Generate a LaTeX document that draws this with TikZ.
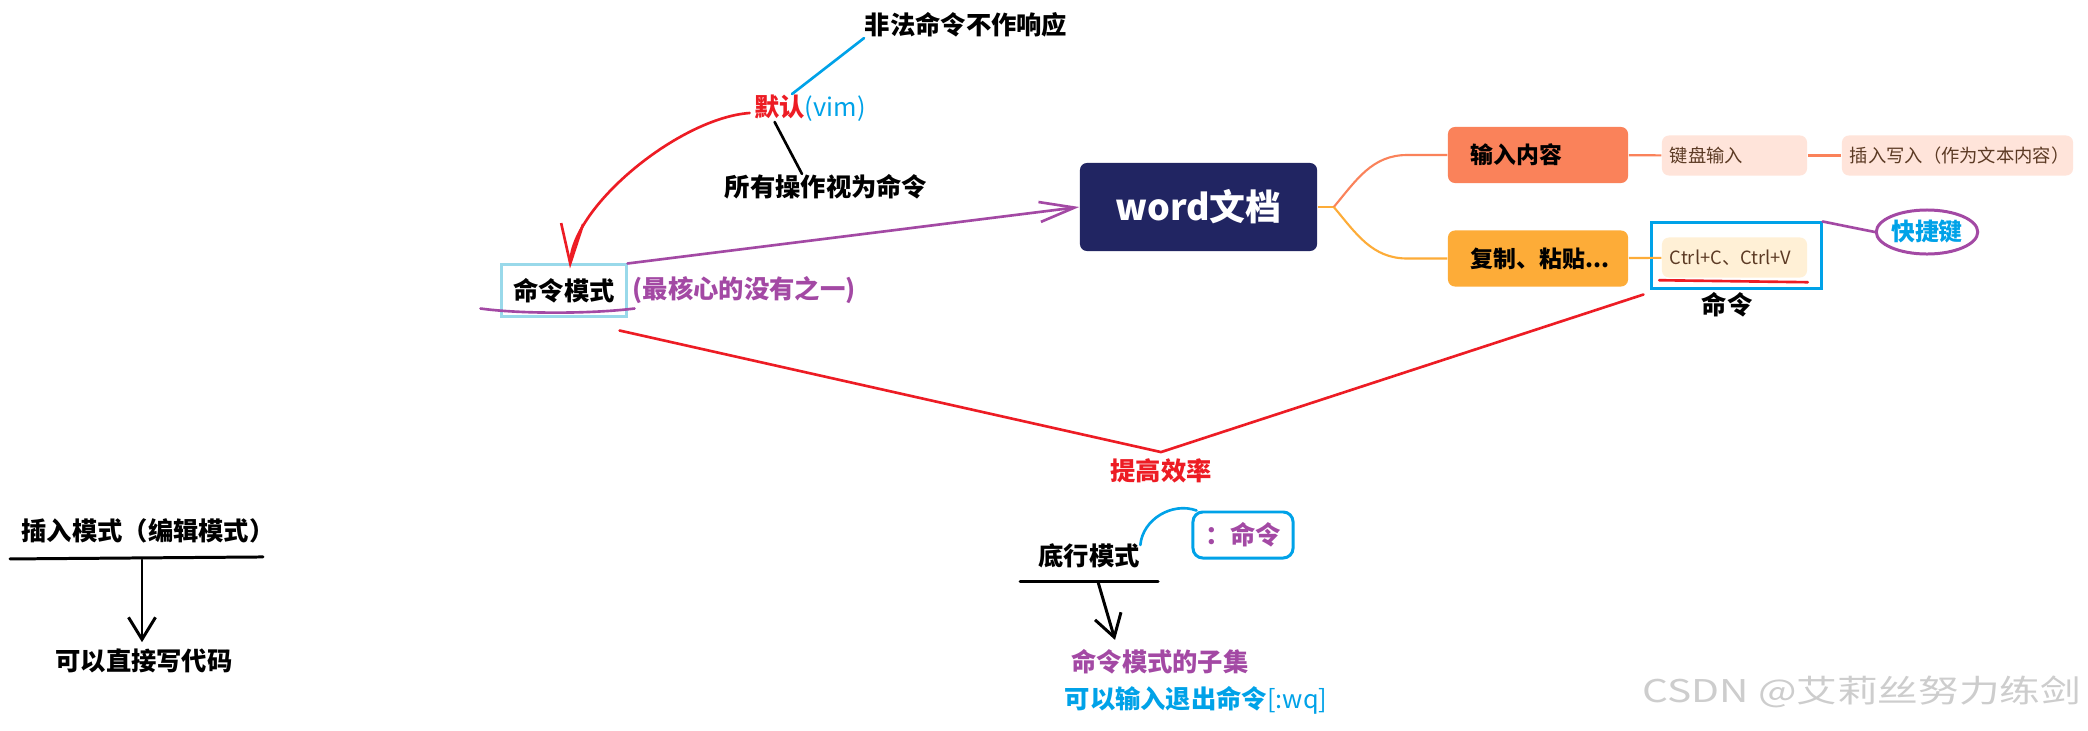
\documentclass[tikz,border=0pt]{standalone}
\usepackage{fontspec}
\setmainfont{Noto Sans CJK SC}
\usepackage{tikz}
\usetikzlibrary{arrows.meta,calc,shapes.geometric}
\definecolor{paintred}{RGB}{237,28,36}
\definecolor{paintblue}{RGB}{0,162,232}
\definecolor{paintpurple}{RGB}{163,73,164}
\definecolor{paintcyan}{RGB}{153,217,234}
\definecolor{navy}{RGB}{33,37,98}
\definecolor{coral}{RGB}{250,130,90}
\definecolor{amber}{RGB}{253,172,56}
\definecolor{blush}{RGB}{255,228,218}
\definecolor{cream}{RGB}{255,240,214}
\definecolor{bark}{RGB}{92,58,36}
\definecolor{wmgray}{RGB}{205,205,205}
\tikzset{
  note/.style={font=\bfseries\fontsize{7.2pt}{8.6pt}\selectfont,inner sep=0pt},
  rootbox/.style={rectangle,rounded corners=2pt,fill=navy,text=white,inner sep=0pt,
    font=\bfseries\fontsize{10.2pt}{12pt}\selectfont,minimum width=2.37cm,minimum height=0.88cm},
  topicbox/.style={rectangle,rounded corners=2pt,fill=#1,inner xsep=0.23cm,inner ysep=0pt,
    text width=1.34cm,align=left,minimum height=0.56cm,font=\bfseries\fontsize{6.5pt}{8pt}\selectfont},
  leafbox/.style={rectangle,rounded corners=2pt,inner xsep=0.08cm,inner ysep=0pt,text=bark,
    text width=#1,align=left,minimum height=0.40cm,font=\fontsize{5.2pt}{6pt}\selectfont},
  framebox/.style={rectangle,draw=#1,line width=0.85pt,inner sep=0pt},
  freehand/.style={line width=0.75pt,line cap=round,line join=round},
  thickline/.style={line width=0.85pt,line cap=round},
  branch/.style={line width=0.6pt},
  redtip/.style={-{Straight Barb[length=4mm,width=2.2mm]}},
  purpletip/.style={-{Straight Barb[length=3.5mm,width=2mm]}},
  blacktip/.style={-{Straight Barb[length=2.2mm,width=2.7mm]}}
}
\begin{document}
\begin{tikzpicture}[x=0.01cm,y=-0.01cm]
  \fill[white] (0,0) rectangle (2088,730);
  \useasboundingbox (0,0) rectangle (2088,730);

  % command mode cluster
  \node[note] (illegal) at (966,25) {非法命令不作响应};
  \node[note] (dflt) at (810,108) {{\color{paintred}默认}{\color{paintblue}\mdseries(vim)}};
  \node[note] (allcmd) at (826,187) {所有操作视为命令};
  \node[note,framebox=paintcyan,minimum width=1.24cm,minimum height=0.51cm] (cmdmode) at (564,290.5) {命令模式};
  \node[note,text=paintpurple,anchor=west] (core) at (632,290) {(最核心的没有之一)};

  \draw[freehand,paintblue] (illegal.south west) -- ($(dflt.north)+(-18,0)$);
  \draw[freehand,black] ($(allcmd.north)+(-24,0)$) -- ($(dflt.south west)+(21,0)$);
  \draw[freehand,paintred,redtip] ($(dflt.west)+(-4,5)$) .. controls (680,118) and (573,205) .. ($(cmdmode.north)+(6,5)$);
  \draw[freehand,paintpurple] ($(cmdmode.south west)+(-20,-9)$) .. controls (520,314) and (590,314) .. ($(cmdmode.south east)+(7,-9)$);

  % mind map
  \node[rootbox] (word) at (1198.5,207) {word文档};
  \node[topicbox=coral] (input) at (1538,155) {输入内容};
  \node[topicbox=amber] (copy) at (1538,258.5) {复制、粘贴...};
  \node[leafbox=1.29cm,fill=blush] (kbd) at (1734.5,155.5) {键盘输入};
  \node[leafbox=2.15cm,fill=blush] (insw) at (1957.5,155.5) {插入写入（作为文本内容）};
  \node[leafbox=1.29cm,fill=cream] (ctrl) at (1734.5,257.5) {Ctrl+C、Ctrl+V};
  \node[framebox=paintblue,minimum width=1.69cm,minimum height=0.65cm] (cmdbox) at (1736.5,255.5) {};
  \node[note] (cmdlbl) at (1727,305) {命令};
  \node[note,ellipse,draw=paintpurple,line width=0.85pt,text=paintblue,minimum width=0.99cm,minimum height=0.44cm,
    font=\bfseries\fontsize{6.8pt}{8pt}\selectfont] (hotkey) at (1927,232) {快捷键};

  \coordinate (split) at ($(word.east)+(16,0)$);
  \draw[branch,amber] (word.east) -- (split);
  \draw[branch,coral] (split) to[out=50,in=180] ($(input.west)+(-40,0)$) -- (input.west);
  \draw[branch,amber] (split) to[out=-50,in=180] ($(copy.west)+(-40,0)$) -- (copy.west);
  \draw[branch,coral] (input) -- (kbd);
  \draw[branch,coral] (kbd) -- (insw);
  \draw[branch,amber] (copy) -- (ctrl);

  \draw[freehand,paintpurple,purpletip] (cmdmode.north east) -- (word.west);
  \draw[freehand,paintpurple] (cmdbox.north east) -- (hotkey.west);
  \draw[freehand,paintred] ($(ctrl.south west)+(-2,2)$) -- ($(ctrl.south east)+(0,4)$);

  % efficiency
  \node[note,text=paintred] (eff) at (1161,471) {提高效率};
  \coordinate (apex) at ($(eff.north)+(0,-6)$);
  \draw[freehand,paintred] ($(cmdmode.south east)+(-8,13)$) -- (apex) -- ($(cmdbox.south west)+(-7,5)$);

  % last line mode
  \node[note] (bottom) at (1089,556) {底行模式};
  \node[note,text=paintpurple,rectangle,rounded corners=2.8pt,draw=paintblue,line width=0.85pt,
    minimum width=1.0cm,minimum height=0.46cm] (colon) at (1243,535) {：命令};
  \node[note,text=paintpurple] (subset) at (1160,662) {命令模式的子集};
  \node[note,text=paintblue] (quit) at (1196,700) {可以输入退出命令{\mdseries[:wq]}};

  \draw[thickline] ($(bottom.south)+(-69,13)$) -- ($(bottom.south)+(69,13)$);
  \coordinate (bA) at ($(bottom.south)+(9,13)$);
  \draw[thickline,blacktip] (bA) -- ($(subset.north)+(-45,-9)$);
  \draw[freehand,paintblue] ($(bottom.east)+(0,-11)$) to[out=85,in=160] ($(colon.north west)+(5,0)$);

  % insert mode
  \node[note] (ins) at (148,531) {插入模式（编辑模式）};
  \node[note] (direct) at (144,661) {可以直接写代码};
  \draw[thickline] ($(ins.south)+(-138,15)$) -- ($(ins.south)+(115,13)$);
  \coordinate (iA) at ($(ins.south)+(-6,16)$);
  \draw[thickline,blacktip] (iA) -- ($(direct.north)+(-2,-6)$);

  \node[anchor=east,text=wmgray,inner sep=0pt,font=\fontsize{8.9pt}{10pt}\selectfont] (mark) at (2082,692)
    {\scalebox{1.3}[1]{CSDN @艾莉丝努力练剑}};
\end{tikzpicture}
\end{document}
